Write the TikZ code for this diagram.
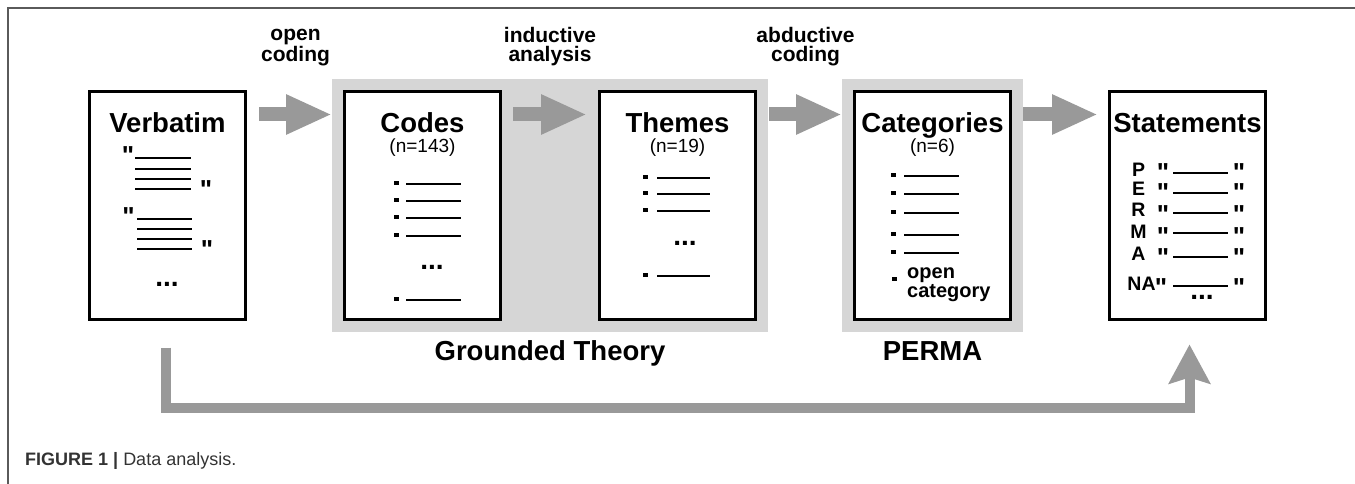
\documentclass[tikz,border=0pt]{standalone}
\usepackage{fontspec}
\setmainfont{Liberation Sans}
\newfontfamily\quotefont{Liberation Sans}[Ligatures=TeXOff]
\usetikzlibrary{arrows.meta, positioning, fit, backgrounds, calc}
\definecolor{arrowgray}{HTML}{999999}
\definecolor{bggray}{HTML}{D6D6D6}
\definecolor{framegray}{HTML}{5A5A5A}

\begin{document}
\begin{tikzpicture}[x=1pt,y=-1pt]
\tikzstyle{sheet} = [draw, fill=white, line width=3pt, minimum width=156pt, minimum height=227pt, inner sep=0pt]
\tikzstyle{title} = [anchor=base, inner sep=0pt, font=\bfseries\fontsize{27.5}{30}\selectfont]
\tikzstyle{count} = [anchor=base, inner sep=0pt, font=\fontsize{19}{21}\selectfont]
\tikzstyle{flow} = [line width=14pt, arrowgray, -{Triangle[length=46pt,width=37pt]}]
\tikzstyle{back} = [line width=10pt, arrowgray, line join=miter, -{Stealth[length=39pt,width=41pt,inset=6pt]}]
\tikzstyle{lbl} = [anchor=base, inner sep=0pt, align=center, text=black, font=\bfseries\fontsize{21}{19}\selectfont]
\tikzstyle{group} = [fill=bggray, inner sep=11pt]
\tikzstyle{txtline} = [line width=2.2pt]
\tikzstyle{quote} = [anchor=north, inner sep=0pt, font=\quotefont\bfseries\fontsize{26}{26}\selectfont]
\tikzstyle{dots} = [inner sep=0pt, font=\bfseries\fontsize{28}{28}\selectfont]
\tikzstyle{letter} = [anchor=base, inner sep=0pt, font=\bfseries\fontsize{19.5}{20}\selectfont]

\useasboundingbox (0,0) rectangle (1355,484);
\draw[framegray, line width=1.2pt] (8,484) -- (8,8) -- (1355,8);

% sheets
\node[sheet] (verb) at (167.5,205.5) {};
\node[sheet, right=96pt of verb] (codes) {};
\node[sheet, right=96pt of codes] (themes) {};
\node[sheet, right=96pt of themes] (cats) {};
\node[sheet, right=96pt of cats] (stmts) {};

\begin{scope}[on background layer]
\node[group, fit=(codes)(themes)] (gt) {};
\node[group, fit=(cats)] (perma) {};
\end{scope}

\node[title] (verb-t) at ([yshift=-42pt]verb.north) {Verbatim};
\node[title] (codes-t) at ([yshift=-42pt]codes.north) {Codes};
\node[title] (themes-t) at ([yshift=-42pt]themes.north) {Themes};
\node[title] (cats-t) at ([yshift=-42pt]cats.north) {Categories};
\node[title] (stmts-t) at ([yshift=-42pt]stmts.north) {Statements};
\node[count] (codes-n) at ([yshift=-62pt]codes.north) {(n=143)};
\node[count] (themes-n) at ([yshift=-62pt]themes.north) {(n=19)};
\node[count] (cats-n) at ([yshift=-62pt]cats.north) {(n=6)};

\node[title] (gt-l) at ([yshift=-29pt]gt.south) {Grounded Theory};
\node[title] (perma-l) at ([yshift=-29pt]perma.south) {PERMA};

% arrows
\draw[flow] ([shift={(12,24)}]verb.north east) -- ([shift={(-11,24)}]codes.north west)
  node[lbl, midway, yshift=53pt] (oc) {open\\coding};
\draw[flow] ([shift={(11,24)}]codes.north east) -- ([shift={(-11,24)}]themes.north west)
  node[lbl, midway, yshift=53pt] (ia) {inductive\\analysis};
\draw[flow] ([shift={(12,24)}]themes.north east) -- ([shift={(-11,24)}]cats.north west)
  node[lbl, midway, yshift=53pt] (ac) {abductive\\coding};
\draw[flow] ([shift={(11,24)}]cats.north east) -- ([shift={(-10,24)}]stmts.north west);
\draw[back] ([shift={(-2,27)}]verb.south) -- ++(0,60) -| ([shift={(2,24)}]stmts.south);

% verbatim
\node[quote] (vq1) at (128,146) {"};
\foreach \y in {158,169,179,189} \draw[txtline] (135,\y) -- (191,\y);
\node[quote] (vq2) at (206,180) {"};
\node[quote] (vq3) at (128.5,207) {"};
\foreach \y in {219,229,239,249} \draw[txtline] (137,\y) -- (192,\y);
\node[quote] (vq4) at (207,240) {"};
\node[dots] (vd) at (167,284) {...};

% codes
\foreach \y in {184,201,218,236,300} {
  \fill (394,\y-3.3) rectangle +(4.5,4.5);
  \draw[txtline] (406,\y) -- (461,\y);
}
\node[dots] (cd) at (432,267) {...};

% themes
\foreach \y in {178,194,211,276} {
  \fill (643,\y-3.3) rectangle +(4.5,4.5);
  \draw[txtline] (657,\y) -- (710,\y);
}
\node[dots] (td) at (685,243) {...};

% categories
\foreach \y in {176,194,213,235,253} {
  \fill (891,\y-3.3) rectangle +(4.5,4.5);
  \draw[txtline] (904,\y) -- (959,\y);
}
\fill (892,276.5) rectangle +(4.5,4.5);
\node[anchor=base west, inner sep=0pt, align=left, font=\bfseries\fontsize{20}{15}\selectfont] (oc-t) at (907,297) {open\\category};

% statements
\foreach \l/\lx/\b/\qx/\q/\r in {P/1138.5/177/1163/163/173, E/1138.5/196/1163/183/193,
    R/1138.5/216/1163/205/213, M/1138.5/238/1163/227/233, A/1138.5/260/1163/248/257,
    NA/1141.5/290/1161/278/286} {
  \node[letter] (let-\l) at (\lx,\b) {\l};
  \node[quote] (qo-\l) at (\qx,\q) {"};
  \draw[txtline] (1173,\r) -- (1228,\r);
  \node[quote] (qc-\l) at (1239,\q) {"};
}
\node[dots] (sd) at (1202,297) {...};

\node[anchor=base west, inner sep=0pt, text=black!80, font=\fontsize{18}{20}\selectfont] (cap) at (25,465) {\textbf{FIGURE 1 |} Data analysis.};
\end{tikzpicture}
\end{document}
